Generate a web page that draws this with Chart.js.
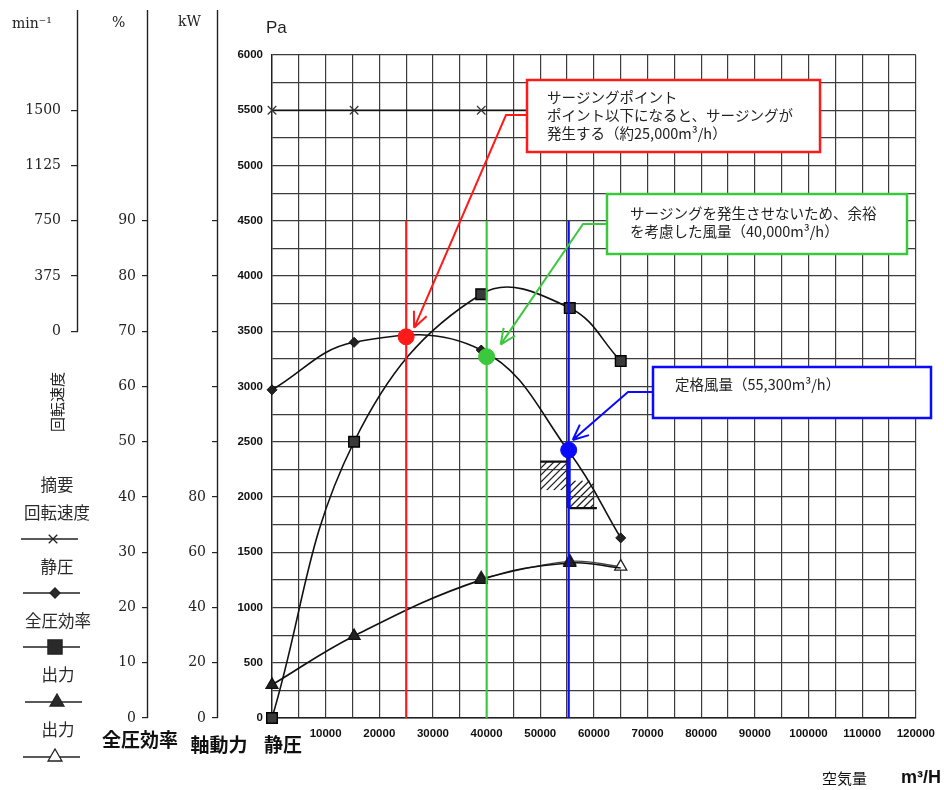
<!DOCTYPE html>
<html lang="ja">
<head>
<meta charset="utf-8">
<title>送風機性能曲線</title>
<script src="https://cdn.jsdelivr.net/npm/chart.js@4.4.1/dist/chart.umd.min.js"></script>
<style>
  html, body { margin: 0; padding: 0; background: #fff; }
  #wrap { position: relative; width: 944px; height: 790px; }
</style>
</head>
<body>
<div id="wrap"><canvas id="fanChart" width="944" height="790"></canvas></div>
<script>
// Measured points (air volume m3/h)
const flowPoints = [0, 15300, 39000, 55500, 65000];
const rpmValues = [1500, 1500, 1500, 1500, 1500];          // min-1
const staticPressure = [2970, 3400, 3330, 2400, 1630];     // Pa
const totalEfficiency = [0, 50, 76.7, 74.2, 64.6];         // %
const shaftPower = [12, 29.7, 50, 56.1, 54.3];             // kW
const openPowerFlow = [39000, 55500, 65000];
const openPower = [50.6, 56.7, 54.8];                      // kW

// Marked operating points
const surgeFlow = 25000, surgePressure = 3450;
const marginFlow = 40000, marginPressure = 3270;
const ratedFlow = 55300, ratedPressure = 2425;
const markerLineTop = 4500;
const ratedSegmentBottom = 1900;

// Hatched tolerance blocks [flow from, flow to], [Pa low, Pa high]
const hatchLowFlow = [50000, 55000], hatchLowPa = [2060, 2320];
const hatchHighFlow = [55300, 60000], hatchHighPa = [1900, 2150];

// Tick labels
const flowLabels = [10000, 20000, 30000, 40000, 50000, 60000, 70000, 80000, 90000, 100000, 110000, 120000];
const pressureLabels = [0, 500, 1000, 1500, 2000, 2500, 3000, 3500, 4000, 4500, 5000, 5500, 6000];
const pctTicks = [0, 10, 20, 30, 40, 50, 60, 70, 80, 90];
const kwTicks = [0, 20, 40, 60, 80, 100, 120, 140, 160, 180];
const kwLabels = [0, 20, 40, 60, 80];
const rpmTicks = [0, 375, 750, 1125, 1500];

const SERIF = '"DejaVu Serif", "Liberation Serif", serif';
const SANS = '"Liberation Sans", Arial, sans-serif';
const JP = '"Noto Sans CJK JP", "Noto Sans", sans-serif';

const RED = '#ff1a1a', GREEN = '#3cc83c', BLUE = '#0a0aff';

function pts(xs, ys) {
    return xs.map((x, i) => ({ x: x, y: ys[i] }));
}

function drawHatch(c, x0, y0, x1, y1) {
    c.save();
    c.beginPath();
    c.rect(x0, y0, x1 - x0, y1 - y0);
    c.clip();
    c.strokeStyle = '#222';
    c.lineWidth = 1.3;
    const h = y1 - y0;
    c.beginPath();
    for (let k = -h; k < x1 - x0 + h; k += 7) {
        c.moveTo(x0 + k, y1);
        c.lineTo(x0 + k + h, y0);
    }
    c.stroke();
    c.restore();
}

function drawCallout(c, box, color, lines, elbowX, elbowY, tip) {
    c.save();
    c.strokeStyle = color;
    c.lineWidth = 2;
    c.beginPath();
    c.moveTo(box.x, elbowY);
    c.lineTo(elbowX, elbowY);
    c.lineTo(tip.x, tip.y);
    const ang = Math.atan2(tip.y - elbowY, tip.x - elbowX);
    [-1, 1].forEach(s => {
        c.moveTo(tip.x, tip.y);
        c.lineTo(tip.x - 17 * Math.cos(ang + s * 0.42), tip.y - 17 * Math.sin(ang + s * 0.42));
    });
    c.stroke();
    c.fillStyle = '#fff';
    c.fillRect(box.x, box.y, box.w, box.h);
    c.lineWidth = 2.5;
    c.strokeRect(box.x, box.y, box.w, box.h);
    c.fillStyle = '#222';
    c.font = '14.5px ' + JP;
    c.textAlign = 'left';
    c.textBaseline = 'middle';
    lines.forEach((t, i) => c.fillText(t, box.tx, box.ty + i * 18));
    c.restore();
}

function legendMarker(c, style, filled, x, y, r) {
    c.save();
    c.strokeStyle = '#222';
    c.lineWidth = 1.3;
    c.beginPath();
    c.moveTo(x - 32, y);
    c.lineTo(x + 25, y);
    c.stroke();
    c.fillStyle = filled ? '#2a2a2a' : '#fff';
    Chart.helpers.drawPoint(c, { pointStyle: style, radius: r, rotation: 0, borderWidth: 1.3 }, x, y);
    c.restore();
}

const overlayPlugin = {
    id: 'fanOverlay',
    beforeDatasetsDraw(chart) {
        const c = chart.ctx, xs = chart.scales.x, ys = chart.scales.y;
        const lx0 = xs.getPixelForValue(hatchLowFlow[0]), lx1 = xs.getPixelForValue(hatchLowFlow[1]);
        const ly0 = ys.getPixelForValue(hatchLowPa[1]), ly1 = ys.getPixelForValue(hatchLowPa[0]);
        const rx0 = xs.getPixelForValue(hatchHighFlow[0]), rx1 = xs.getPixelForValue(hatchHighFlow[1]);
        const ry0 = ys.getPixelForValue(hatchHighPa[1]), ry1 = ys.getPixelForValue(hatchHighPa[0]);
        drawHatch(c, lx0, ly0, lx1, ly1);
        drawHatch(c, rx0, ry0, rx1, ry1);
        c.save();
        c.strokeStyle = '#111';
        c.lineWidth = 2.2;
        c.beginPath();
        c.moveTo(lx0, ly0); c.lineTo(lx1, ly0);
        c.moveTo(rx0, ry1); c.lineTo(rx1 + 3, ry1);
        c.stroke();
        c.restore();
    },
    afterDatasetsDraw(chart) {
        const c = chart.ctx, xs = chart.scales.x, ys = chart.scales.y;
        const dot = (f, p) => ({ x: xs.getPixelForValue(f), y: ys.getPixelForValue(p) });
        const sd = dot(surgeFlow, surgePressure);
        const md = dot(marginFlow, marginPressure);
        const rd = dot(ratedFlow, ratedPressure);
        drawCallout(c, { x: 527, y: 80, w: 293, h: 72, tx: 547, ty: 97 }, RED,
            ['サージングポイント', 'ポイント以下になると、サージングが', '発生する（約25,000m³/h）'],
            506, 115, { x: sd.x + 8, y: sd.y - 9 });
        drawCallout(c, { x: 607, y: 194, w: 300, h: 60, tx: 630, ty: 213 }, GREEN,
            ['サージングを発生させないため、余裕', 'を考慮した風量（40,000m³/h）'],
            583, 224, { x: md.x + 14, y: md.y - 12 });
        drawCallout(c, { x: 653, y: 367, w: 278, h: 51, tx: 675, ty: 384 }, BLUE,
            ['定格風量（55,300m³/h）'],
            628, 392, { x: rd.x + 4, y: rd.y - 10 });
    },
    afterDraw(chart) {
        const c = chart.ctx;
        // left axis lines extend above the grid
        c.save();
        c.strokeStyle = '#222';
        c.lineWidth = 1.4;
        [['yRpm', 0], ['yPct', 0], ['yKw', 0]].forEach(([id, v]) => {
            const s = chart.scales[id];
            const xx = Math.round(s.right) - 0.5;
            c.beginPath();
            c.moveTo(xx, 10);
            c.lineTo(xx, s.getPixelForValue(v));
            c.stroke();
        });

        c.fillStyle = '#222';
        c.textBaseline = 'middle';
        c.textAlign = 'left';
        c.font = '14px ' + SERIF;
        c.fillText('min⁻¹', 12, 24);
        c.fillText('%', 112, 23);
        c.fillText('kW', 178, 22);
        c.font = '17px ' + SANS;
        c.fillText('Pa', 266, 28);

        // vertical caption under the rpm axis
        c.save();
        c.translate(57, 402);
        c.rotate(-Math.PI / 2);
        c.textAlign = 'center';
        c.font = '15px ' + JP;
        c.fillText('回転速度', 0, 0);
        c.restore();

        // legend (摘要)
        c.textAlign = 'center';
        c.font = '16.5px ' + JP;
        c.fillStyle = '#2a2a2a';
        c.fillText('摘要', 57, 485);
        c.fillText('回転速度', 57, 513);
        c.fillText('静圧', 57, 567);
        c.fillText('全圧効率', 58, 621);
        c.fillText('出力', 58, 675);
        c.fillText('出力', 58, 730);
        legendMarker(c, 'crossRot', false, 53, 539, 6);
        legendMarker(c, 'rectRot', true, 55, 593, 5);
        legendMarker(c, 'rect', true, 55, 647, 10);
        legendMarker(c, 'triangle', true, 57, 702, 8);
        legendMarker(c, 'triangle', false, 55, 757, 8);

        // axis names under the left scales
        c.fillStyle = '#111';
        c.font = 'bold 19px ' + JP;
        c.fillText('全圧効率', 140, 740);
        c.fillText('軸動力', 219, 745);
        c.fillText('静圧', 283, 745);

        // x axis name
        c.textAlign = 'left';
        c.font = '15px ' + JP;
        c.fillText('空気量', 822, 778);
        c.font = 'bold 18px ' + SANS;
        c.fillText('m³/H', 901, 778);
        c.restore();
    }
};

const gridColor = '#3c3c3c';

new Chart(document.getElementById('fanChart'), {
    type: 'line',
    data: {
        datasets: [
            {
                label: '出力',
                data: pts(openPowerFlow, openPower),
                yAxisID: 'yKw',
                borderColor: '#444',
                borderWidth: 1.4,
                tension: 0.4,
                pointStyle: 'triangle',
                pointRadius: 7,
                pointBackgroundColor: '#fff',
                pointBorderColor: '#222',
                pointBorderWidth: 1.3,
                clip: false,
                order: 7
            },
            {
                label: '出力',
                data: pts(flowPoints, shaftPower),
                yAxisID: 'yKw',
                borderColor: '#111',
                borderWidth: 1.7,
                tension: 0.4,
                pointStyle: 'triangle',
                pointRadius: [7, 7, 7, 7, 0],
                pointBackgroundColor: '#222',
                pointBorderColor: '#111',
                pointBorderWidth: 1.2,
                clip: false,
                order: 6
            },
            {
                label: '回転速度',
                data: pts(flowPoints, rpmValues),
                yAxisID: 'yRpm',
                borderColor: '#111',
                borderWidth: 1.5,
                tension: 0,
                pointStyle: 'crossRot',
                pointRadius: 6,
                pointBorderColor: '#333',
                pointBorderWidth: 1.2,
                clip: false,
                order: 5
            },
            {
                label: '静圧',
                data: pts(flowPoints, staticPressure),
                yAxisID: 'y',
                borderColor: '#111',
                borderWidth: 1.6,
                tension: 0.4,
                pointStyle: 'rectRot',
                pointRadius: 5,
                pointBackgroundColor: '#222',
                pointBorderColor: '#111',
                pointBorderWidth: 1,
                clip: false,
                order: 4
            },
            {
                label: '全圧効率',
                data: pts(flowPoints, totalEfficiency),
                yAxisID: 'yPct',
                borderColor: '#111',
                borderWidth: 1.6,
                tension: 0.4,
                pointStyle: 'rect',
                pointRadius: 7.5,
                pointBackgroundColor: '#3a3a3a',
                pointBorderColor: '#000',
                pointBorderWidth: 1.4,
                clip: false,
                order: 3
            },
            {
                label: 'surge',
                data: [{ x: surgeFlow, y: markerLineTop }, { x: surgeFlow, y: 0 }],
                yAxisID: 'y', borderColor: RED, borderWidth: 2, pointRadius: 0, order: 2
            },
            {
                label: 'margin',
                data: [{ x: marginFlow, y: markerLineTop }, { x: marginFlow, y: 0 }],
                yAxisID: 'y', borderColor: GREEN, borderWidth: 2, pointRadius: 0, order: 2
            },
            {
                label: 'rated',
                data: [{ x: ratedFlow, y: markerLineTop }, { x: ratedFlow, y: 0 }],
                yAxisID: 'y', borderColor: BLUE, borderWidth: 2.2, pointRadius: 0, order: 2
            },
            {
                label: 'rated range',
                data: [{ x: ratedFlow, y: ratedPressure }, { x: ratedFlow, y: ratedSegmentBottom }],
                yAxisID: 'y', borderColor: BLUE, borderWidth: 4, pointRadius: 0, order: 1
            },
            {
                label: 'surge point',
                data: [{ x: surgeFlow, y: surgePressure }],
                yAxisID: 'y', pointRadius: 8, pointBackgroundColor: RED, pointBorderColor: RED, order: 0
            },
            {
                label: 'margin point',
                data: [{ x: marginFlow, y: marginPressure }],
                yAxisID: 'y', pointRadius: 8, pointBackgroundColor: GREEN, pointBorderColor: GREEN, order: 0
            },
            {
                label: 'rated point',
                data: [{ x: ratedFlow, y: ratedPressure }],
                yAxisID: 'y', pointRadius: 8, pointBackgroundColor: BLUE, pointBorderColor: BLUE, order: 0
            }
        ]
    },
    options: {
        responsive: false,
        animation: false,
        layout: { padding: { top: 55, right: 24, left: 0, bottom: 0 } },
        plugins: {
            legend: { display: false },
            tooltip: { enabled: false },
            title: { display: false }
        },
        scales: {
            x: {
                type: 'linear',
                min: 0,
                max: 120000,
                afterFit: s => { s.height = 72; },
                ticks: {
                    stepSize: 5000,
                    autoSkip: false,
                    maxRotation: 0,
                    padding: 9,
                    color: '#111',
                    font: { family: SANS, size: 11.5, weight: 'bold' },
                    callback: v => flowLabels.includes(v) ? String(v) : ''
                },
                grid: { color: gridColor, lineWidth: 1.2, drawTicks: false },
                border: { color: '#222', width: 1.4 }
            },
            y: {
                position: 'left',
                weight: 0,
                min: 0,
                max: 6000,
                afterFit: s => { s.width = 54; },
                ticks: {
                    stepSize: 250,
                    autoSkip: false,
                    padding: 9,
                    color: '#111',
                    font: { family: SANS, size: 11.5, weight: 'bold' },
                    callback: v => pressureLabels.includes(v) ? String(v) : ''
                },
                grid: { color: gridColor, lineWidth: 1.2, drawTicks: false },
                border: { color: '#222', width: 1.4 }
            },
            yKw: {
                position: 'left',
                weight: 1,
                min: 0,
                max: 240,
                afterFit: s => { s.width = 70; },
                afterBuildTicks: s => { s.ticks = kwTicks.map(v => ({ value: v })); },
                ticks: {
                    autoSkip: false,
                    padding: 6,
                    color: '#222',
                    font: { family: SERIF, size: 14 },
                    callback: v => kwLabels.includes(v) ? String(v) : ''
                },
                grid: { drawOnChartArea: false, drawTicks: true, tickLength: 6, color: '#222', lineWidth: 1.2 },
                border: { display: false }
            },
            yPct: {
                position: 'left',
                weight: 2,
                min: 0,
                max: 120,
                afterFit: s => { s.width = 70; },
                afterBuildTicks: s => { s.ticks = pctTicks.map(v => ({ value: v })); },
                ticks: {
                    autoSkip: false,
                    padding: 6,
                    color: '#222',
                    font: { family: SERIF, size: 14 },
                    callback: v => String(v)
                },
                grid: { drawOnChartArea: false, drawTicks: true, tickLength: 6, color: '#222', lineWidth: 1.2 },
                border: { display: false }
            },
            yRpm: {
                position: 'left',
                weight: 3,
                min: -2625,
                max: 1875,
                afterFit: s => { s.width = 78; },
                afterBuildTicks: s => { s.ticks = rpmTicks.map(v => ({ value: v })); },
                ticks: {
                    autoSkip: false,
                    padding: 10,
                    color: '#222',
                    font: { family: SERIF, size: 14 },
                    callback: v => String(v)
                },
                grid: { drawOnChartArea: false, drawTicks: true, tickLength: 7, color: '#222', lineWidth: 1.2 },
                border: { display: false }
            }
        }
    },
    plugins: [overlayPlugin]
});
</script>
</body>
</html>
